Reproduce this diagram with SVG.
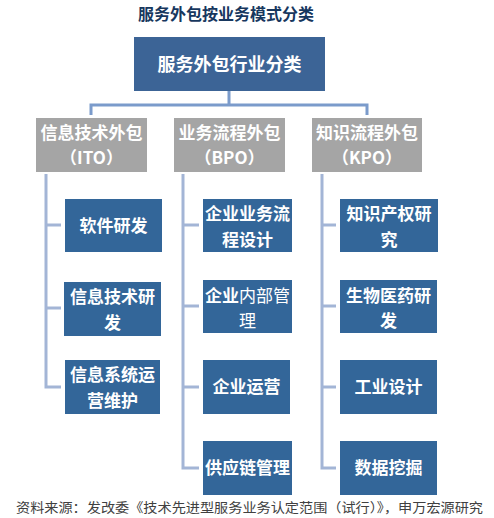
<svg xmlns="http://www.w3.org/2000/svg" width="494" height="518" viewBox="0 0 494 518">
<style>
text{font-family:"Noto Sans CJK SC","Noto Sans",sans-serif;font-weight:bold;text-anchor:middle}
.title{font-size:16px;fill:#17375e}
.top rect{fill:#3c6496}
.top text{font-size:18px;fill:#fff}
.cat rect{fill:#a5a5a5}
.cat text{font-size:17px;fill:#fff}
.leaf rect{fill:#336699}
.leaf text{font-size:17px;fill:#fff}
.thin{font-weight:normal}
.c1{fill:none;stroke:#7b9bcb;stroke-width:3}
.c2{fill:none;stroke:#a3b5d6;stroke-width:3}
.src{font-size:13px;fill:#404040;font-weight:normal;text-anchor:start}
</style>
<text class="title" x="226" y="20">服务外包按业务模式分类</text>
<g id="connectors">
<path class="c1" d="M229 91V105M91 115V105H367V115"/>
<path class="c2" d="M46 174V387H61M46 225H61M46 308H61"/>
<path class="c2" d="M183 174V468H199M183 225H199M183 306H199M183 387H199"/>
<path class="c2" d="M322 174V468H336M322 225H336M322 306H336M322 387H336"/>
</g>
<g id="root" class="top"><rect x="134" y="37" width="191" height="54"/><text x="229.5" y="71">服务外包行业分类</text></g>
<g id="ito" class="cat"><rect x="36" y="118" width="111" height="54"/><text x="91.5" y="139">信息技术外包</text><text x="91.5" y="164">（ITO）</text></g>
<g id="bpo" class="cat"><rect x="174" y="118" width="111" height="54"/><text x="229.5" y="139">业务流程外包</text><text x="229.5" y="164">（BPO）</text></g>
<g id="kpo" class="cat"><rect x="312" y="118" width="110" height="54"/><text x="367" y="139">知识流程外包</text><text x="367" y="164">（KPO）</text></g>
<g id="ito1" class="leaf"><rect x="65" y="199" width="97" height="53"/><text x="113.5" y="232">软件研发</text></g>
<g id="ito2" class="leaf"><rect x="64" y="282" width="97" height="54"/><text x="112.5" y="303">信息技术研</text><text x="112.5" y="329">发</text></g>
<g id="ito3" class="leaf"><rect x="65" y="360" width="95" height="54"/><text x="112.5" y="381">信息系统运</text><text x="112.5" y="407">营维护</text></g>
<g id="bpo1" class="leaf"><rect x="203" y="199" width="89" height="53"/><text x="247.5" y="220">企业业务流</text><text x="247.5" y="246">程设计</text></g>
<g id="bpo2" class="leaf"><rect x="203" y="280" width="89" height="53"/><text x="247.5" y="302">企业<tspan class="thin">内部管</tspan></text><text x="247.5" y="327" class="thin">理</text></g>
<g id="bpo3" class="leaf"><rect x="203" y="360" width="87" height="54"/><text x="246.5" y="393">企业运营</text></g>
<g id="bpo4" class="leaf"><rect x="203" y="441" width="89" height="54"/><text x="247.5" y="474">供应链管理</text></g>
<g id="kpo1" class="leaf"><rect x="340" y="199" width="98" height="53"/><text x="389" y="220">知识产权研</text><text x="389" y="246">究</text></g>
<g id="kpo2" class="leaf"><rect x="340" y="280" width="97" height="53"/><text x="388.5" y="302">生物医药研</text><text x="388.5" y="327">发</text></g>
<g id="kpo3" class="leaf"><rect x="340" y="360" width="97" height="54"/><text x="388.5" y="393">工业设计</text></g>
<g id="kpo4" class="leaf"><rect x="340" y="441" width="97" height="54"/><text x="388.5" y="474">数据挖掘</text></g>
<text class="src" x="16" y="512" textLength="467" lengthAdjust="spacingAndGlyphs">资料来源：发改委《技术先进型服务业务认定范围（试行）》，申万宏源研究</text>
</svg>
